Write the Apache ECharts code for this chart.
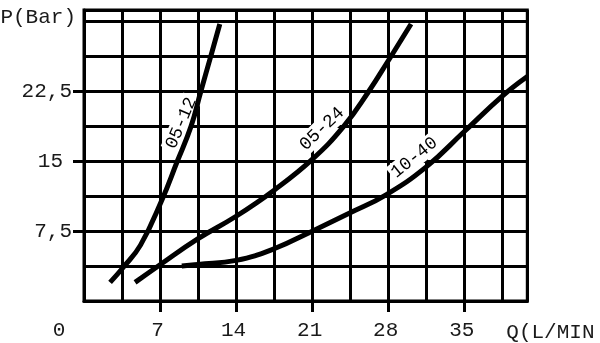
<!DOCTYPE html>
<html>
<head>
<meta charset="utf-8">
<script src="https://cdn.jsdelivr.net/npm/echarts@6/dist/echarts.min.js"></script>
<style>
  html, body { margin: 0; padding: 0; background: #fff; }
  #chart { width: 600px; height: 343px; }
</style>
</head>
<body>
<div id="chart"></div>
<script>
// ---- Data ----
// Axis ranges and ticks
const Q_MAX = 40.8;
const P_MAX = 31.25;
const qTickValues = [7, 14, 21, 28, 35];
const qLabelValues = [0, 7, 14, 21, 28, 35];
const pTickValues = [7.5, 15, 22.5];

// Curve 05-12
const q0512 = [2.4, 3.6, 5.2, 7.15, 8.55, 9.85, 10.75, 11.6, 12.5];
const p0512 = [2.0, 3.6, 6.0, 10.8, 14.9, 18.75, 22.5, 26.0, 29.75];
// Curve 05-24
const q0524 = [4.7, 7.0, 10.5, 14.0, 17.5, 21.0, 23.9, 26.2, 28.0, 30.1];
const p0524 = [2.0, 3.9, 6.7, 9.1, 11.9, 15.2, 18.75, 22.5, 25.8, 29.75];
// Curve 10-40
const q1040 = [9.0, 10.5, 14.0, 17.5, 21.0, 24.5, 27.8, 31.5, 35.0, 38.5, 40.8];
const p1040 = [3.75, 3.93, 4.36, 5.61, 7.5, 9.47, 11.4, 14.4, 18.2, 22.0, 24.1];

// Curve labels (name and anchor in data space)
const curveNames = ['05-12', '05-24', '10-40'];
const labelQ = [8.95, 21.9, 30.4];
const labelP = [19.1, 18.5, 15.4];

// ---- Build ----
const zip = (xs, ys) => xs.map((x, i) => [x, ys[i]]);
const FONT = "'Liberation Mono', 'DejaVu Sans Mono', monospace";
const TXT = '#1a1a1a';
const labelRot = [67, 44, 39];

const lineSeries = (name, xs, ys) => ({
  name, type: 'line', data: zip(xs, ys), smooth: 0.45,
  symbol: 'none', xAxisIndex: 0, yAxisIndex: 0, z: 5,
  lineStyle: { color: '#000', width: 5 }
});

const chart = echarts.init(document.getElementById('chart'), null, { renderer: 'canvas' });
chart.setOption({
  animation: false,
  backgroundColor: '#fff',
  grid: { left: 84, right: 72.7, top: 10, bottom: 42, containLabel: false, outerBoundsMode: 'none',
          show: true, borderColor: '#000', borderWidth: 3, backgroundColor: 'transparent' },
  xAxis: [
    { type: 'value', min: 0, max: Q_MAX, interval: 3.5,
      axisLine: { show: true, onZero: false, lineStyle: { color: '#000', width: 3 } },
      axisTick: { show: false }, axisLabel: { show: false },
      splitLine: { show: true, lineStyle: { color: '#000', width: 3 } } },
    { type: 'value', position: 'bottom', min: 0, max: Q_MAX, interval: 7,
      axisLine: { show: false, onZero: false }, splitLine: { show: false },
      axisTick: { show: true, customValues: qTickValues, length: 11, lineStyle: { color: '#000', width: 3 } },
      axisLabel: { show: true, customValues: qLabelValues, margin: 19, fontSize: 21, fontFamily: FONT, color: TXT,
        formatter: v => v === 0 ? '{z|0}' : '{n|' + v + '}',
        rich: { z: { padding: [0, 50, 0, 0], fontSize: 21, fontFamily: FONT, color: TXT },
                n: { padding: [0, 5, 0, 0], fontSize: 21, fontFamily: FONT, color: TXT } } },
      name: 'Q(L/MIN', nameLocation: 'end', nameGap: -21,
      nameTextStyle: { align: 'left', verticalAlign: 'top', padding: [21, 0, 0, 0], fontSize: 21, fontFamily: FONT, color: TXT } }
  ],
  yAxis: [
    { type: 'value', min: 0, max: P_MAX, interval: 3.75,
      axisLine: { show: true, onZero: false, lineStyle: { color: '#000', width: 3 } },
      axisTick: { show: false }, axisLabel: { show: false },
      splitLine: { show: true, lineStyle: { color: '#000', width: 3 } } },
    { type: 'value', position: 'left', min: 0, max: P_MAX, interval: 7.5,
      axisLine: { show: false, onZero: false }, splitLine: { show: false },
      axisTick: { show: true, customValues: pTickValues, length: 11, lineStyle: { color: '#000', width: 3 } },
      axisLabel: { show: true, customValues: pTickValues, margin: 12, fontSize: 21, fontFamily: FONT, color: TXT,
        formatter: v => v === 15 ? '{a|15}' : '{b|' + String(v).replace('.', ',') + '}',
        rich: { a: { padding: [0, 9, 0, 0], fontSize: 21, fontFamily: FONT, color: TXT },
                b: { fontSize: 21, fontFamily: FONT, color: TXT } } },
      name: 'P(Bar)', nameLocation: 'end', nameGap: -7,
      nameTextStyle: { align: 'right', verticalAlign: 'middle', padding: [0, 8, 0, 0], fontSize: 21, fontFamily: FONT, color: TXT } }
  ],
  series: [
    lineSeries('05-12', q0512, p0512),
    lineSeries('05-24', q0524, p0524),
    lineSeries('10-40', q1040, p1040),
    { name: 'labels', type: 'scatter', xAxisIndex: 0, yAxisIndex: 0, symbol: 'circle', symbolSize: 1, z: 4,
      itemStyle: { color: '#fff', opacity: 1 },
      emphasis: { disabled: true },
      labelLayout: { hideOverlap: false },
      data: curveNames.map((n, i) => ({ name: n, value: [labelQ[i], labelP[i]], label: { rotate: labelRot[i] } })),
      label: { show: true, position: 'inside', formatter: p => p.name, fontSize: 18, fontFamily: FONT,
               color: '#000', opacity: 1, textBorderWidth: 0, textShadowBlur: 0,
               backgroundColor: '#fff', padding: [1, 2] } }
  ]
});
</script>
</body>
</html>
